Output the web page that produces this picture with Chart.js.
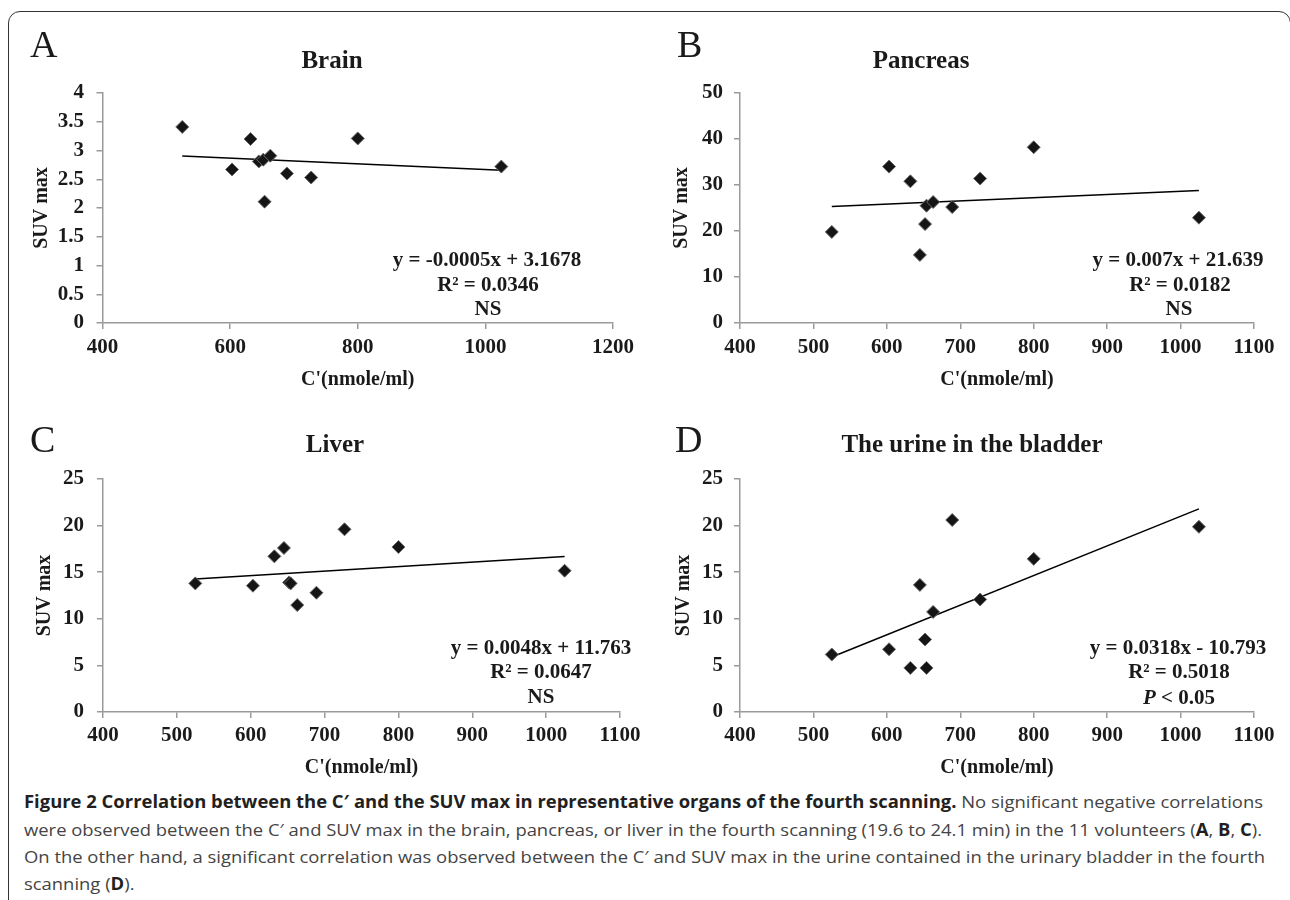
<!DOCTYPE html>
<html><head><meta charset="utf-8">
<script src="https://cdn.jsdelivr.net/npm/chart.js@4.4.1/dist/chart.umd.min.js"></script>
<style>
html,body{margin:0;padding:0;background:#fff;}
body{width:1290px;height:900px;overflow:hidden;position:relative;font-family:'Liberation Serif',serif;}
#frame{position:absolute;left:8px;top:11px;width:1283px;height:920px;border:1.5px solid #333;border-radius:12px;box-sizing:border-box;}
canvas{position:absolute;}
.lbl{position:absolute;font-family:'Liberation Serif',serif;color:#1a1a1a;white-space:nowrap;line-height:1;transform:translate(-50%,-50%);font-weight:bold;}
.title{font-size:25px;}
.eq{font-size:21px;}
.letter{position:absolute;font-family:'Liberation Serif',serif;font-size:38px;line-height:1;color:#1a1a1a;}
.cap{position:absolute;left:24px;white-space:nowrap;font-family:'Open Sans',sans-serif;font-size:17px;line-height:1;color:#444;transform-origin:0 0;}
.cap b{color:#231f20;font-weight:700;}
</style></head><body>
<div id="frame"></div>
<canvas id="cA" width="640" height="375" style="left:0px;top:20px;width:640px;height:375px"></canvas>
<canvas id="cB" width="650" height="375" style="left:640px;top:20px;width:650px;height:375px"></canvas>
<canvas id="cC" width="650" height="365" style="left:0px;top:420px;width:650px;height:365px"></canvas>
<canvas id="cD" width="650" height="365" style="left:640px;top:420px;width:650px;height:365px"></canvas>

<div class="letter" style="left:30px;top:25px">A</div>
<div class="letter" style="left:677px;top:25px">B</div>
<div class="letter" style="left:30px;top:420px">C</div>
<div class="letter" style="left:675px;top:420px">D</div>

<div class="lbl title" style="left:332px;top:59px">Brain</div>
<div class="lbl title" style="left:921px;top:59px">Pancreas</div>
<div class="lbl title" style="left:335px;top:443px">Liver</div>
<div class="lbl title" style="left:972px;top:443px">The urine in the bladder</div>

<div class="lbl eq" style="left:487px;top:259px">y = -0.0005x + 3.1678</div>
<div class="lbl eq" style="left:488px;top:284px">R² = 0.0346</div>
<div class="lbl eq" style="left:488px;top:308px">NS</div>

<div class="lbl eq" style="left:1178px;top:259px">y = 0.007x + 21.639</div>
<div class="lbl eq" style="left:1180px;top:284px">R² = 0.0182</div>
<div class="lbl eq" style="left:1179px;top:308px">NS</div>

<div class="lbl eq" style="left:541px;top:647px">y = 0.0048x + 11.763</div>
<div class="lbl eq" style="left:541px;top:671px">R² = 0.0647</div>
<div class="lbl eq" style="left:541px;top:696px">NS</div>

<div class="lbl eq" style="left:1178px;top:647px">y = 0.0318x - 10.793</div>
<div class="lbl eq" style="left:1179px;top:671px">R² = 0.5018</div>
<div class="lbl eq" style="left:1179px;top:697px"><i>P</i> &lt; 0.05</div>

<div class="cap" id="l1" data-w="1239" style="top:793px"><b>Figure 2 Correlation between the C′ and the SUV max in representative organs of the fourth scanning.</b> No significant negative correlations</div>
<div class="cap" id="l2" data-w="1238" style="top:821px">were observed between the C′ and SUV max in the brain, pancreas, or liver in the fourth scanning (19.6 to 24.1 min) in the 11 volunteers (<b>A</b>, <b>B</b>, <b>C</b>).</div>
<div class="cap" id="l3" data-w="1241" style="top:848px">On the other hand, a significant correlation was observed between the C′ and SUV max in the urine contained in the urinary bladder in the fourth</div>
<div class="cap" id="l4" style="top:875px">scanning (<b>D</b>).</div>

<script>
// C' (nmole/ml) of the 11 volunteers
const concentration = [525, 603, 632, 645, 652, 654, 663, 689, 727, 800, 1025];
// SUV max per organ (same volunteer order)
const suvBrain    = [3.41, 2.67, 3.20, 2.81, 2.84, 2.11, 2.91, 2.60, 2.53, 3.21, 2.72];
const suvPancreas = [19.8, 34.0, 30.8, 14.8, 21.5, 25.5, 26.3, 25.2, 31.4, 38.2, 22.9];
const suvLiver    = [13.8, 13.55, 16.7, 17.6, 13.9, 13.8, 11.47, 12.8, 19.6, 17.7, 15.16];
const suvUrine    = [6.17, 6.73, 4.73, 13.64, 7.78, 4.73, 10.74, 20.6, 12.07, 16.43, 19.87];
// trend line end points
const trendBrain    = [[525, 2.905], [1025, 2.655]];
const trendPancreas = [[525, 25.3], [1025, 28.8]];
const trendLiver    = [[525, 14.28], [1025, 16.68]];
const trendUrine    = [[525, 5.9], [1025, 21.8]];
// axis tick settings [min, max, step]
const xTicksA = [400, 1200, 200];
const xTicksBCD = [400, 1100, 100];
const yTicksBrain = [0, 4, 0.5];
const yTicksPancreas = [0, 50, 10];
const yTicksLiverUrine = [0, 25, 5];

Chart.defaults.font.family = "'Liberation Serif', serif";
Chart.defaults.color = '#1a1a1a';

const AXIS_GRAY = '#9a9a9a';

function panel(id, xs, ys, trend, xt, yt, lay) {
  return new Chart(document.getElementById(id), {
    type: 'scatter',
    data: {
      datasets: [
        {
          data: xs.map((v, i) => ({x: v, y: ys[i]})),
          pointStyle: 'rectRot', pointRadius: 6.5, pointHoverRadius: 6.5,
          backgroundColor: '#151515', borderColor: '#6a6a6a', borderWidth: 1, order: 1
        },
        {
          data: trend.map(p => ({x: p[0], y: p[1]})),
          showLine: true, pointRadius: 0, pointHoverRadius: 0,
          borderColor: '#000', borderWidth: 1.5, fill: false, order: 2
        }
      ]
    },
    options: {
      responsive: false, animation: false, devicePixelRatio: 1,
      layout: {padding: {left: 0, top: lay.padTop, right: lay.padRight, bottom: 0}},
      plugins: {legend: {display: false}, tooltip: {enabled: false}, title: {display: false}},
      scales: {
        x: {
          type: 'linear', min: xt[0], max: xt[1],
          ticks: {stepSize: xt[2], padding: lay.xTickPad, autoSkip: false, maxRotation: 0,
                  font: {size: 21, weight: 'bold'}, color: '#1a1a1a',
                  callback: v => String(v)},
          grid: {display: true, drawOnChartArea: false, drawTicks: true, tickLength: 6, color: AXIS_GRAY, lineWidth: 1.5},
          border: {display: true, color: AXIS_GRAY, width: 1.5},
          title: {display: true, text: "C'(nmole/ml)", font: {size: 20, weight: 'bold'}, color: '#1a1a1a',
                  padding: {top: 0, bottom: lay.xTitlePad}},
          afterFit: s => { s.height = lay.xAxisH; }
        },
        y: {
          type: 'linear', min: yt[0], max: yt[1],
          ticks: {stepSize: yt[2], padding: lay.yTickPad, autoSkip: false,
                  font: {size: 21, weight: 'bold'}, color: '#1a1a1a',
                  callback: v => String(+v.toFixed(2))},
          grid: {display: true, drawOnChartArea: false, drawTicks: true, tickLength: 6, color: AXIS_GRAY, lineWidth: 1.5},
          border: {display: true, color: AXIS_GRAY, width: 1.5},
          title: {display: true, text: 'SUV max', font: {size: 20, weight: 'bold'}, color: '#1a1a1a',
                  padding: {top: lay.yTitlePad, bottom: 0}},
          afterFit: s => { s.width = lay.yAxisW; }
        }
      }
    }
  });
}

panel('cA', concentration, suvBrain, trendBrain, xTicksA, yTicksBrain,
      {padTop: 73, padRight: 25, xAxisH: 72, yAxisW: 102.5, xTickPad: 6, xTitlePad: 3, yTickPad: 12.5, yTitlePad: 30});
panel('cB', concentration, suvPancreas, trendPancreas, xTicksBCD, yTicksPancreas,
      {padTop: 73, padRight: 36, xAxisH: 72, yAxisW: 100, xTickPad: 6, xTitlePad: 3, yTickPad: 11, yTitlePad: 30});
panel('cC', concentration, suvLiver, trendLiver, xTicksBCD, yTicksLiverUrine,
      {padTop: 59, padRight: 30, xAxisH: 73, yAxisW: 103, xTickPad: 5, xTitlePad: 5, yTickPad: 13, yTitlePad: 33});
panel('cD', concentration, suvUrine, trendUrine, xTicksBCD, yTicksLiverUrine,
      {padTop: 59, padRight: 36, xAxisH: 73, yAxisW: 100, xTickPad: 5, xTitlePad: 5, yTickPad: 11, yTitlePad: 32});

// fit caption lines to their widths in the reference
let lastScale = 1;
['l1','l2','l3','l4'].forEach(id => {
  const el = document.getElementById(id);
  const w = el.getBoundingClientRect().width;
  const target = el.dataset.w ? +el.dataset.w : null;
  const s = target ? target / w : lastScale;
  lastScale = s;
  el.style.transform = 'scaleX(' + s + ')';
});
</script>
</body></html>
